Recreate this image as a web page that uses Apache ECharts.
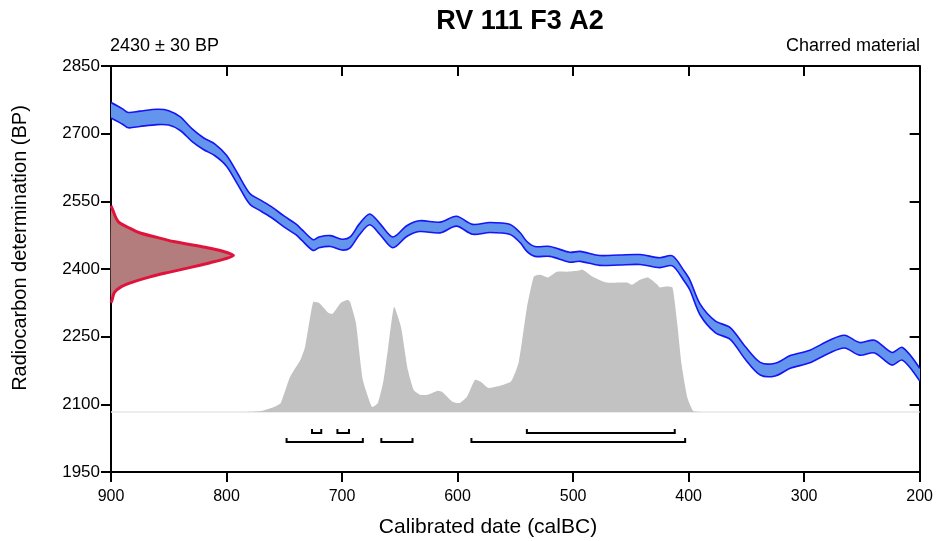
<!DOCTYPE html>
<html>
<head>
<meta charset="utf-8">
<script src="https://cdn.jsdelivr.net/npm/echarts@6/dist/echarts.min.js"></script>
<style>
  html, body { margin: 0; padding: 0; background: #fff; }
  #chart { width: 936px; height: 541px; }
</style>
</head>
<body>
<div id="chart"></div>
<script>
// calibration curve (calBC -> BP, centre and half-width of the band)
const calYears = [900, 890, 885, 875, 860, 850, 840, 830, 820, 810, 800, 790, 780, 770, 760, 750, 740, 735, 725, 720,
  710, 700, 693, 685, 676, 667, 656, 644, 633, 615, 601, 587, 572, 555, 546, 540, 533, 520, 503, 494,
  477, 460, 442, 425, 414, 404, 399, 390, 377, 364, 351, 338, 325, 312, 295, 278, 265, 252, 239, 224, 215, 200];
const curveBP = [2752, 2738, 2730, 2733, 2737, 2735, 2722, 2697, 2678, 2664, 2640, 2598, 2556, 2540, 2524, 2505, 2488, 2476, 2453, 2459,
  2462, 2454, 2459, 2488, 2510, 2488, 2459, 2484, 2495, 2492, 2506, 2488, 2492, 2488, 2470, 2450, 2439, 2439, 2426, 2428,
  2419, 2420, 2421, 2414, 2418, 2385, 2365, 2310, 2272, 2257, 2214, 2179, 2177, 2194, 2206, 2228, 2239, 2223, 2228, 2201, 2212, 2166];
const curveSigma = [17, 17, 17, 17, 17, 16, 15, 14, 13, 13, 12, 12, 12, 12, 12, 12, 12, 12, 12, 12,
  12, 12, 12, 12, 12, 12, 12, 12, 12, 12, 11, 11, 11, 11, 11, 11, 11, 11, 11, 11,
  11, 11, 11, 11, 11, 11, 11, 12, 13, 13, 14, 14, 14, 14, 14, 14, 14, 14, 14, 14, 14, 14];

// measurement 2430 +- 30 BP, drawn against the left axis
const distBP = [2540, 2528, 2515, 2503, 2492, 2481, 2470, 2461, 2448, 2440, 2430, 2422, 2414, 2403, 2392, 2382, 2372, 2361, 2348, 2332, 2325];
const distWidth = [0, 2, 4, 7, 15, 24, 40, 54, 82, 96, 106, 98, 86, 68, 49, 33, 20, 9, 3, 1, 0];

// calibrated probability (height above the base line, BP units)
const postBase = 2083;
const postYears = [782, 770, 759, 753, 745, 736, 732, 725, 720, 712, 708, 701, 695, 693, 688, 682, 674, 669, 664, 660,
  655, 649, 643, 638, 632, 626, 617, 613, 604, 598, 592, 585, 580, 573, 554, 547, 540, 534, 528, 522,
  514, 505, 496, 492, 483, 471, 453, 449, 442, 435, 427, 425, 420, 414, 410, 406, 401, 396, 390];
const postHeights = [0, 2, 11, 20, 78, 116, 144, 244, 242, 220, 218, 242, 249, 244, 198, 71, 11, 20, 71, 144,
  233, 189, 93, 49, 38, 38, 47, 44, 22, 20, 33, 71, 67, 53, 67, 111, 231, 300, 304, 298,
  311, 311, 313, 316, 300, 287, 287, 282, 293, 298, 282, 276, 278, 276, 200, 104, 31, 2, 0];

// ranges: first row 68.2%, second row 95.4%
const range68 = [[726, 718], [704, 694], [540, 412]];
const range95 = [[748, 682], [666, 639], [588, 403]];

const FONT = '"Liberation Sans", Arial, sans-serif';

const chart = echarts.init(document.getElementById('chart'), null, { renderer: 'canvas' });

function renderPosterior(params, api) {
  if (params.dataIndex !== 0) return null;
  const pts = postYears.map((yr, i) => api.coord([yr, postBase + postHeights[i]]));
  pts.push(api.coord([postYears[postYears.length - 1], postBase]));
  pts.push(api.coord([postYears[0], postBase]));
  return { type: 'polygon', shape: { points: pts, smooth: 0.15 }, style: { fill: '#c2c2c2' } };
}

function renderBand(params, api) {
  if (params.dataIndex !== 0) return null;
  const upper = calYears.map((yr, i) => api.coord([yr, curveBP[i] + curveSigma[i]]));
  const lower = calYears.map((yr, i) => api.coord([yr, curveBP[i] - curveSigma[i]]));
  return {
    type: 'group',
    children: [
      { type: 'polygon', shape: { points: upper.concat(lower.slice().reverse()), smooth: 0.3 }, style: { fill: '#6495ed' } },
      { type: 'polyline', shape: { points: upper, smooth: 0.3 }, style: { fill: null, stroke: '#1414f5', lineWidth: 1.6 } },
      { type: 'polyline', shape: { points: lower, smooth: 0.3 }, style: { fill: null, stroke: '#1414f5', lineWidth: 1.6 } },
    ],
  };
}

function renderDist(params, api) {
  if (params.dataIndex !== 0) return null;
  const pts = distBP.map((bp, i) => api.coord([900 - distWidth[i], bp]));
  return {
    type: 'group',
    children: [
      { type: 'polygon', shape: { points: pts, smooth: 0.3 }, style: { fill: '#b47d7d' } },
      { type: 'polyline', shape: { points: pts, smooth: 0.3 }, style: { fill: null, stroke: '#e0133c', lineWidth: 3 } },
    ],
  };
}

function renderBracket(params, api) {
  const start = api.value(0);
  const end = api.value(1);
  const row = api.value(2);
  const a = api.coord([start, postBase]);
  const b = api.coord([end, postBase]);
  const y = a[1] + 21 + row * 9;
  return {
    type: 'polyline',
    shape: { points: [[a[0], y - 4], [a[0], y], [b[0], y], [b[0], y - 4]] },
    style: { fill: null, stroke: '#000', lineWidth: 2 },
  };
}

const bracketData = range68.map(r => [r[0], r[1], 0]).concat(range95.map(r => [r[0], r[1], 1]));

const axisLine = { show: true, lineStyle: { color: '#000', width: 2 } };
const plain = v => String(v);

const option = {
  animation: false,
  backgroundColor: '#fff',
  title: {
    text: 'RV 111 F3 A2',
    left: 515,
    top: 3,
    textAlign: 'center',
    textStyle: { fontFamily: FONT, fontSize: 27, fontWeight: 'bold', color: '#000' },
  },
  grid: { left: 111, right: 16, top: 66, bottom: 69 },
  xAxis: [
    {
      type: 'value', min: 200, max: 900, interval: 100, inverse: true, position: 'bottom',
      axisLine, splitLine: { show: false },
      axisTick: { show: true, inside: false, length: 10, lineStyle: { color: '#000', width: 2 } },
      axisLabel: { margin: 17, formatter: plain, fontFamily: FONT, fontSize: 16, color: '#000' },
    },
    {
      type: 'value', min: 200, max: 900, interval: 100, inverse: true, position: 'top',
      axisLine, splitLine: { show: false },
      axisTick: { show: true, inside: true, length: 10, lineStyle: { color: '#000', width: 2 } },
      axisLabel: { show: false },
    },
  ],
  yAxis: [
    {
      type: 'value', min: 1950, max: 2850, interval: 150, position: 'left',
      axisLine, splitLine: { show: false },
      axisTick: { show: true, inside: false, length: 10, lineStyle: { color: '#000', width: 2 } },
      axisLabel: { margin: 11, formatter: plain, fontFamily: FONT, fontSize: 17, color: '#000' },
    },
    {
      type: 'value', min: 1950, max: 2850, interval: 150, position: 'right',
      axisLine, splitLine: { show: false },
      axisTick: { show: true, inside: true, length: 10, lineStyle: { color: '#000', width: 2 } },
      axisLabel: { show: false },
    },
  ],
  graphic: [
    { type: 'text', left: 110, top: 37, style: { text: '2430 ± 30 BP', font: '18px ' + FONT, fill: '#000' } },
    { type: 'text', right: 16, top: 37, style: { text: 'Charred material', font: '18px ' + FONT, fill: '#000' } },
    {
      type: 'text', x: 20, y: 248, rotation: Math.PI / 2,
      style: { text: 'Radiocarbon determination (BP)', font: '20px ' + FONT, fill: '#000', textAlign: 'center', textVerticalAlign: 'middle' },
    },
    {
      type: 'text', x: 488, y: 527,
      style: { text: 'Calibrated date (calBC)', font: '21px ' + FONT, fill: '#000', textAlign: 'center', textVerticalAlign: 'middle' },
    },
  ],
  series: [
    {
      type: 'line', silent: true, symbol: 'none', z: 1,
      data: [[900, postBase], [200, postBase]],
      lineStyle: { color: '#e6e6e6', width: 1.5 },
    },
    {
      type: 'custom', renderItem: renderPosterior, silent: true, z: 2,
      encode: { x: 0, y: 1 },
      data: postYears.map((yr, i) => [yr, postBase + postHeights[i]]),
    },
    {
      type: 'custom', renderItem: renderBand, silent: true, z: 3, clip: true,
      encode: { x: 0, y: 1 },
      data: calYears.map((yr, i) => [yr, curveBP[i]]),
    },
    {
      type: 'custom', renderItem: renderDist, silent: true, z: 4,
      encode: { x: 0, y: 1 },
      data: distBP.map((bp, i) => [900 - distWidth[i], bp]),
    },
    {
      type: 'custom', renderItem: renderBracket, silent: true, z: 4,
      encode: { x: [0, 1] },
      data: bracketData,
    },
  ],
};

chart.setOption(option);
</script>
</body>
</html>
